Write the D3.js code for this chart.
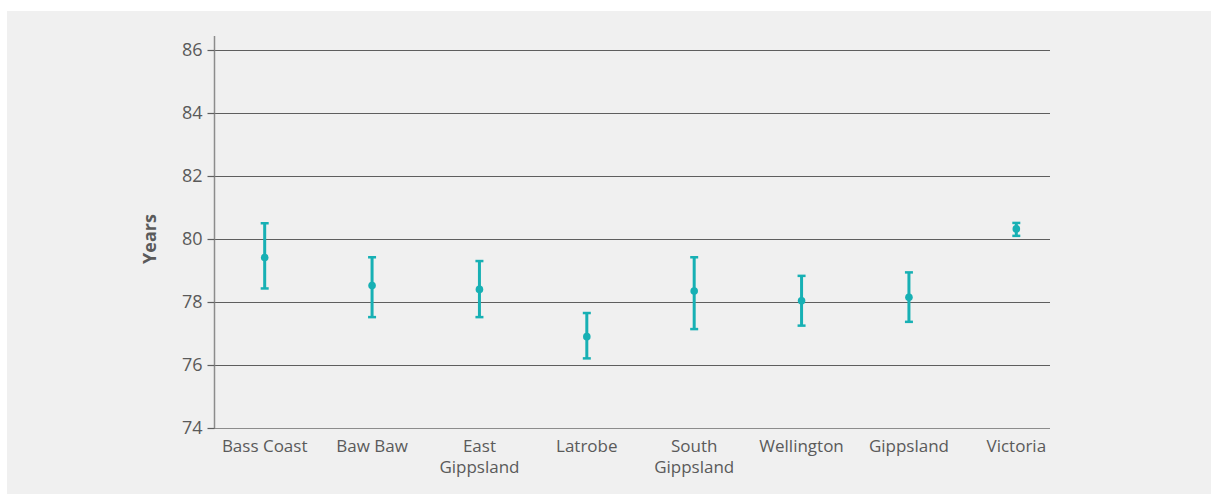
<!DOCTYPE html>
<html>
<head>
<meta charset="utf-8">
<script src="https://cdn.jsdelivr.net/npm/d3@7"></script>
<style>
  html, body { margin: 0; padding: 0; background: #ffffff; }
  svg { display: block; }
  text { font-family: "Open Sans", "Noto Sans", sans-serif; fill: #5a5a5a; }
</style>
</head>
<body>
<svg id="chart" width="1211" height="494"></svg>
<script>
// Life expectancy at birth with 95% confidence intervals, by area
const categories = ["Bass Coast", "Baw Baw", "East\nGippsland", "Latrobe", "South\nGippsland", "Wellington", "Gippsland", "Victoria"];
const estimate = [79.41, 78.52, 78.40, 76.90, 78.35, 78.04, 78.15, 80.32];
const lower    = [78.43, 77.52, 77.52, 76.21, 77.14, 77.25, 77.37, 80.10];
const upper    = [80.50, 79.42, 79.30, 77.65, 79.42, 78.83, 78.94, 80.51];
const yTicks   = [74, 76, 78, 80, 82, 84, 86];
const yTitle   = "Years";

const svg = d3.select("#chart");
const teal = "#17b0b4";

// panel background
svg.append("rect")
  .attr("x", 7).attr("y", 11)
  .attr("width", 1204).attr("height", 483)
  .attr("fill", "#f0f0f0");

const x = d3.scaleBand().domain(categories).range([211, 1070]);
const y = d3.scaleLinear().domain([74, 86]).range([428, 50]);

const plotLeft = 214, plotRight = 1050;

// horizontal gridlines
svg.append("g").selectAll("line")
  .data(yTicks)
  .join("line")
  .attr("x1", plotLeft).attr("x2", plotRight)
  .attr("y1", d => Math.round(y(d)) + 0.5).attr("y2", d => Math.round(y(d)) + 0.5)
  .attr("stroke", d => d === 74 ? "#8c8c8c" : "#5e5e5e")
  .attr("stroke-width", 1.2);

// y axis
const yAxis = d3.axisLeft(y).tickValues(yTicks).tickSize(7).tickPadding(5).tickFormat(d3.format("d"));
const gy = svg.append("g").attr("transform", `translate(${plotLeft + 0.5},0)`).call(yAxis);
gy.select(".domain").attr("d", `M0,36V${y(74)}`).attr("stroke", "#8c8c8c").attr("stroke-width", 1.5);
gy.selectAll(".tick line").attr("stroke", "#5e5e5e").attr("stroke-width", 1.2);
gy.selectAll(".tick text")
  .attr("font-size", 18)
  .style("font-family", '"Open Sans", "Noto Sans", sans-serif')
  .attr("fill", "#5a5a5a");

// y title
svg.append("text")
  .attr("transform", `translate(156,${y(80)}) rotate(-90)`)
  .attr("text-anchor", "middle")
  .attr("font-size", 18)
  .attr("font-weight", "bold")
  .text(yTitle);

// category labels
const labels = svg.append("g").selectAll("text")
  .data(categories)
  .join("text")
  .attr("x", d => x(d) + x.bandwidth() / 2)
  .attr("y", 452)
  .attr("text-anchor", "middle")
  .attr("font-size", 17);
labels.selectAll("tspan")
  .data(d => d.split("\n").map((t, i) => ({ t, i, c: d })))
  .join("tspan")
  .attr("x", d => x(d.c) + x.bandwidth() / 2)
  .attr("dy", d => d.i === 0 ? 0 : 21)
  .text(d => d.t);

// confidence intervals and point estimates
const rows = categories.map((c, i) => ({ c, est: estimate[i], lo: lower[i], hi: upper[i] }));
const cx = d => x(d.c) + x.bandwidth() / 2;
const marks = svg.append("g").selectAll("g").data(rows).join("g");
marks.append("line")
  .attr("x1", cx).attr("x2", cx)
  .attr("y1", d => y(d.hi)).attr("y2", d => y(d.lo))
  .attr("stroke", teal).attr("stroke-width", 3);
marks.append("line")
  .attr("x1", d => cx(d) - 4).attr("x2", d => cx(d) + 4)
  .attr("y1", d => y(d.hi)).attr("y2", d => y(d.hi))
  .attr("stroke", teal).attr("stroke-width", 2.5);
marks.append("line")
  .attr("x1", d => cx(d) - 4).attr("x2", d => cx(d) + 4)
  .attr("y1", d => y(d.lo)).attr("y2", d => y(d.lo))
  .attr("stroke", teal).attr("stroke-width", 2.5);
marks.append("circle")
  .attr("cx", cx).attr("cy", d => y(d.est))
  .attr("r", 3.8)
  .attr("fill", teal);
</script>
</body>
</html>
